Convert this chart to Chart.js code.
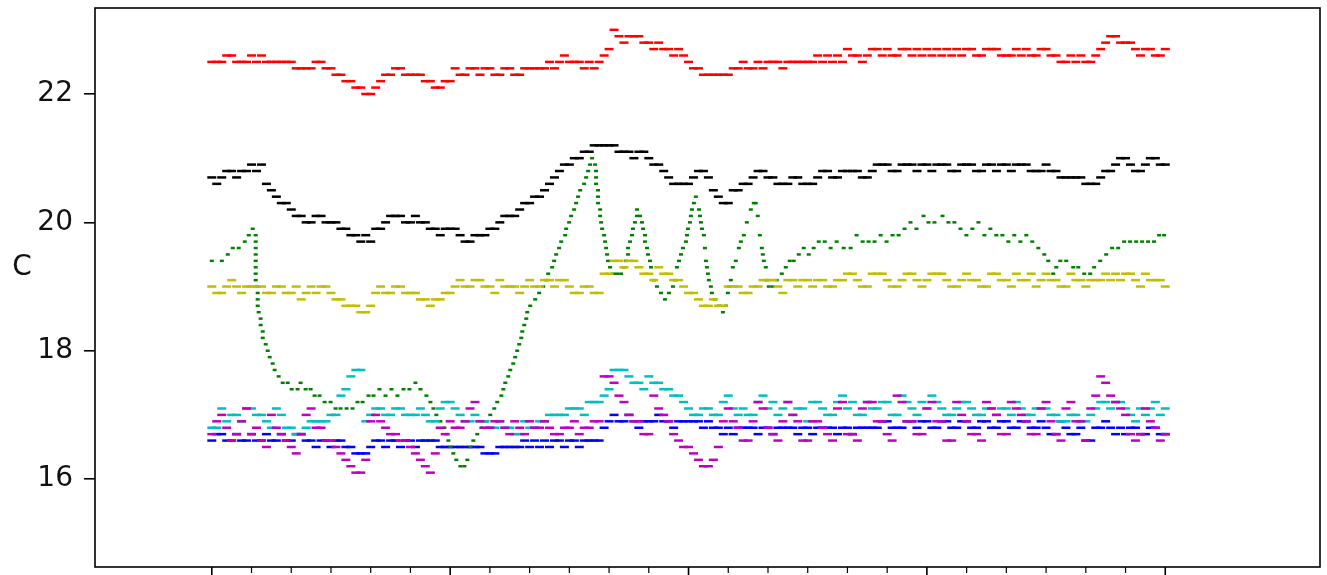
<!DOCTYPE html>
<html>
<head>
<meta charset="utf-8">
<title>Temperatures</title>
<script src="https://cdn.jsdelivr.net/npm/chart.js@4.4.1/dist/chart.umd.min.js"></script>
<style>
  html, body { margin: 0; padding: 0; background: #fff; }
  canvas { display: block; }
</style>
</head>
<body>
<canvas id="chart" width="1327" height="575"></canvas>
<script>
// hours since the start of the first day: readings on the hour and on the half hour
const hours = [
  0, 1, 2, 3, 4, 5, 6, 7, 8, 9, 10, 11, 12, 13, 14, 15, 16, 17, 18, 19,
  20, 21, 22, 23, 24, 25, 26, 27, 28, 29, 30, 31, 32, 33, 34, 35, 36, 37, 38, 39,
  40, 41, 42, 43, 44, 45, 46, 47, 48, 49, 50, 51, 52, 53, 54, 55, 56, 57, 58, 59,
  60, 61, 62, 63, 64, 65, 66, 67, 68, 69, 70, 71, 72, 73, 74, 75, 76, 77, 78, 79,
  80, 81, 82, 83, 84, 85, 86, 87, 88, 89, 90, 91, 92, 93, 94, 95, 96
];
const halfHours = [
  0.5, 1.5, 2.5, 3.5, 4.5, 5.5, 6.5, 7.5, 8.5, 9.5,
  10.5, 11.5, 12.5, 13.5, 14.5, 15.5, 16.5, 17.5, 18.5, 19.5,
  20.5, 21.5, 22.5, 23.5, 24.5, 25.5, 26.5, 27.5, 28.5, 29.5,
  30.5, 31.5, 32.5, 33.5, 34.5, 35.5, 36.5, 37.5, 38.5, 39.5,
  40.5, 41.5, 42.5, 43.5, 44.5, 45.5, 46.5, 47.5, 48.5, 49.5,
  50.5, 51.5, 52.5, 53.5, 54.5, 55.5, 56.5, 57.5, 58.5, 59.5,
  60.5, 61.5, 62.5, 63.5, 64.5, 65.5, 66.5, 67.5, 68.5, 69.5,
  70.5, 71.5, 72.5, 73.5, 74.5, 75.5, 76.5, 77.5, 78.5, 79.5,
  80.5, 81.5, 82.5, 83.5, 84.5, 85.5, 86.5, 87.5, 88.5, 89.5,
  90.5, 91.5, 92.5, 93.5, 94.5, 95.5
];

const majorTicks = [0, 24, 48, 72, 96];
const minorTicks = [4, 8, 12, 16, 20, 28, 32, 36, 40, 44, 52, 56, 60, 64, 68, 76, 80, 84, 88, 92];
const yTickValues = [16, 18, 20, 22];

const redTemps = [
  22.5, 22.5, 22.6, 22.5, 22.6, 22.6, 22.5, 22.5, 22.5, 22.4,
  22.4, 22.5, 22.4, 22.3, 22.2, 22.1, 22.0, 22.2, 22.3, 22.4,
  22.3, 22.3, 22.2, 22.1, 22.2, 22.3, 22.4, 22.3, 22.4, 22.3,
  22.4, 22.3, 22.4, 22.4, 22.5, 22.5, 22.5, 22.5, 22.5, 22.5,
  22.7, 22.9, 22.9, 22.9, 22.8, 22.8, 22.7, 22.7, 22.5, 22.4,
  22.3, 22.3, 22.3, 22.4, 22.4, 22.5, 22.5, 22.5, 22.5, 22.5,
  22.5, 22.6, 22.6, 22.6, 22.7, 22.6, 22.6, 22.7, 22.7, 22.6,
  22.7, 22.7, 22.7, 22.7, 22.7, 22.7, 22.7, 22.6, 22.7, 22.7,
  22.6, 22.7, 22.7, 22.6, 22.7, 22.6, 22.5, 22.5, 22.5, 22.6,
  22.8, 22.9, 22.8, 22.7, 22.7, 22.6, 22.7
];
const redTempsHalf = [
  22.5, 22.6, 22.5, 22.5, 22.5, 22.5, 22.5, 22.5, 22.4, 22.4,
  22.5, 22.4, 22.3, 22.2, 22.1, 22.0, 22.1, 22.3, 22.4, 22.3,
  22.3, 22.2, 22.1, 22.2, 22.4, 22.3, 22.4, 22.4, 22.3, 22.4,
  22.3, 22.4, 22.4, 22.4, 22.4, 22.6, 22.5, 22.4, 22.4, 22.6,
  23.0, 22.8, 22.9, 22.8, 22.7, 22.7, 22.6, 22.6, 22.4, 22.3,
  22.3, 22.3, 22.4, 22.5, 22.4, 22.4, 22.5, 22.4, 22.5, 22.5,
  22.5, 22.5, 22.5, 22.5, 22.6, 22.5, 22.7, 22.6, 22.6, 22.7,
  22.6, 22.6, 22.6, 22.6, 22.6, 22.6, 22.7, 22.6, 22.7, 22.6,
  22.6, 22.6, 22.6, 22.7, 22.6, 22.5, 22.6, 22.6, 22.5, 22.7,
  22.9, 22.8, 22.8, 22.6, 22.7, 22.6
];

const blackTemps = [
  20.7, 20.7, 20.8, 20.8, 20.9, 20.9, 20.5, 20.3, 20.2, 20.1,
  20.0, 20.1, 20.0, 19.9, 19.8, 19.7, 19.7, 19.9, 20.1, 20.1,
  20.0, 20.0, 19.9, 19.8, 19.9, 19.8, 19.7, 19.8, 19.9, 20.0,
  20.1, 20.2, 20.3, 20.4, 20.6, 20.8, 20.9, 21.0, 21.1, 21.2,
  21.2, 21.1, 21.1, 21.1, 21.0, 20.9, 20.7, 20.6, 20.6, 20.8,
  20.7, 20.4, 20.3, 20.5, 20.6, 20.8, 20.7, 20.6, 20.6, 20.7,
  20.6, 20.7, 20.8, 20.7, 20.8, 20.8, 20.7, 20.9, 20.9, 20.8,
  20.9, 20.8, 20.9, 20.9, 20.9, 20.8, 20.9, 20.8, 20.9, 20.8,
  20.9, 20.9, 20.9, 20.8, 20.9, 20.8, 20.7, 20.7, 20.6, 20.6,
  20.8, 20.9, 21.0, 20.8, 20.9, 21.0, 20.9
];
const blackTempsHalf = [
  20.6, 20.8, 20.7, 20.8, 20.8, 20.6, 20.4, 20.3, 20.1, 20.0,
  20.1, 20.0, 20.0, 19.9, 19.8, 19.8, 19.9, 20.0, 20.1, 20.0,
  20.1, 20.0, 19.9, 19.9, 19.9, 19.7, 19.8, 19.8, 19.9, 20.1,
  20.1, 20.3, 20.4, 20.5, 20.7, 20.9, 21.0, 21.1, 21.2, 21.2,
  21.2, 21.1, 21.0, 21.1, 20.9, 20.8, 20.6, 20.6, 20.7, 20.8,
  20.5, 20.3, 20.5, 20.6, 20.7, 20.8, 20.7, 20.6, 20.7, 20.6,
  20.6, 20.8, 20.7, 20.8, 20.8, 20.7, 20.8, 20.9, 20.8, 20.9,
  20.9, 20.9, 20.8, 20.9, 20.8, 20.9, 20.9, 20.8, 20.9, 20.9,
  20.8, 20.9, 20.8, 20.8, 20.8, 20.7, 20.7, 20.7, 20.6, 20.7,
  20.8, 21.0, 20.9, 20.8, 21.0, 20.9
];

const yellowTemps = [
  19.0, 18.9, 19.1, 18.9, 19.0, 19.0, 18.9, 19.0, 18.9, 18.8,
  19.0, 19.0, 18.9, 18.8, 18.7, 18.6, 18.7, 19.0, 18.9, 19.0,
  18.9, 18.8, 18.7, 18.8, 18.9, 19.1, 19.0, 19.1, 19.0, 19.1,
  19.0, 18.9, 19.1, 19.0, 19.1, 19.1, 19.0, 18.9, 19.0, 18.9,
  19.2, 19.4, 19.4, 19.3, 19.2, 19.3, 19.2, 19.1, 18.9, 18.8,
  18.7, 18.7, 19.0, 19.0, 18.9, 19.0, 19.1, 19.0, 19.1, 19.0,
  19.1, 19.1, 19.0, 19.1, 19.2, 19.1, 19.0, 19.2, 19.1, 19.0,
  19.2, 19.1, 19.1, 19.2, 19.1, 19.0, 19.2, 19.1, 19.0, 19.2,
  19.1, 19.2, 19.1, 19.0, 19.2, 19.1, 19.0, 19.1, 19.0, 19.1,
  19.2, 19.2, 19.2, 19.1, 19.2, 19.1, 19.0
];
const yellowTempsHalf = [
  18.9, 19.0, 19.0, 19.0, 19.0, 18.9, 19.0, 18.9, 19.0, 18.9,
  18.9, 19.0, 18.8, 18.7, 18.7, 18.6, 18.9, 18.9, 19.0, 18.9,
  18.9, 18.8, 18.8, 18.9, 19.0, 19.0, 19.1, 19.0, 18.9, 19.0,
  19.0, 19.0, 19.0, 19.1, 19.0, 19.1, 18.9, 19.0, 18.9, 19.2,
  19.4, 19.3, 19.4, 19.2, 19.1, 19.2, 19.1, 19.0, 18.9, 18.7,
  18.8, 18.7, 19.0, 18.9, 19.0, 19.1, 19.1, 18.9, 19.1, 19.1,
  19.0, 19.1, 19.0, 19.1, 19.2, 19.0, 19.2, 19.2, 19.0, 19.1,
  19.2, 19.0, 19.2, 19.2, 19.0, 19.1, 19.1, 19.0, 19.2, 19.1,
  19.0, 19.1, 19.2, 19.1, 19.1, 19.0, 19.2, 19.1, 19.1, 19.1,
  19.1, 19.1, 19.2, 19.0, 19.1, 19.1
];

const cyanTemps = [
  16.8, 17.1, 17.0, 16.9, 17.1, 17.0, 16.8, 17.0, 16.8, 16.7,
  16.9, 16.9, 17.0, 17.3, 17.6, 17.7, 17.0, 17.1, 17.0, 17.1,
  17.0, 17.1, 16.9, 17.1, 17.2, 17.0, 16.9, 16.9, 16.8, 16.9,
  16.8, 16.7, 16.8, 16.9, 17.0, 17.0, 17.1, 17.1, 17.2, 17.2,
  17.4, 17.7, 17.6, 17.5, 17.6, 17.5, 17.4, 17.3, 17.1, 17.0,
  17.1, 17.0, 17.3, 17.0, 17.0, 17.2, 17.1, 17.0, 17.2, 17.1,
  16.9, 17.2, 17.0, 17.2, 17.1, 17.0, 17.2, 17.1, 17.2, 17.0,
  17.2, 17.0, 17.1, 17.2, 17.0, 17.1, 17.2, 17.0, 17.1, 17.0,
  17.1, 17.2, 17.0, 17.1, 17.1, 17.0, 16.9, 17.0, 16.9, 17.1,
  17.2, 17.2, 17.1, 16.9, 17.0, 17.2, 17.1
];
const cyanTempsHalf = [
  16.8, 16.9, 17.0, 17.1, 17.0, 16.9, 17.1, 16.8, 16.7, 16.8,
  16.9, 16.9, 17.0, 17.4, 17.7, 16.9, 17.1, 17.0, 17.1, 17.0,
  17.0, 17.0, 16.9, 17.2, 17.1, 16.9, 17.0, 16.9, 16.8, 16.8,
  16.7, 16.9, 16.8, 16.9, 17.0, 17.0, 17.1, 17.0, 17.2, 17.3,
  17.7, 17.7, 17.5, 17.4, 17.5, 17.4, 17.3, 17.2, 17.0, 17.1,
  17.0, 17.2, 17.1, 17.1, 17.0, 17.3, 17.2, 17.1, 17.0, 17.1,
  17.2, 17.1, 17.0, 17.3, 17.2, 17.0, 17.1, 17.2, 17.0, 17.3,
  17.1, 17.2, 17.3, 17.1, 17.0, 17.2, 17.1, 17.0, 17.1, 17.1,
  17.0, 17.1, 17.0, 17.1, 17.0, 16.9, 17.0, 16.9, 17.0, 17.2,
  17.1, 17.2, 17.0, 17.1, 17.1, 17.0
];

const magentaTemps = [
  16.7, 17.0, 16.6, 16.9, 16.7, 16.6, 17.0, 16.7, 16.5, 16.7,
  17.1, 16.8, 16.6, 16.4, 16.2, 16.1, 16.9, 16.9, 16.7, 16.6,
  16.5, 16.3, 16.1, 16.8, 16.9, 16.8, 17.1, 16.9, 16.8, 16.9,
  16.7, 16.8, 16.9, 16.8, 16.8, 16.7, 16.8, 16.7, 16.8, 16.9,
  17.6, 17.3, 17.0, 16.9, 16.7, 17.1, 16.9, 16.6, 16.5, 16.3,
  16.2, 16.5, 17.1, 16.8, 16.6, 17.2, 16.8, 16.6, 17.2, 16.9,
  16.6, 16.9, 16.7, 17.1, 16.7, 16.6, 17.2, 16.9, 16.7, 17.3,
  16.9, 16.7, 17.1, 16.9, 16.6, 17.2, 16.9, 16.7, 17.2, 17.0,
  16.7, 17.1, 16.9, 16.7, 17.2, 16.7, 17.1, 16.9, 16.6, 17.3,
  17.5, 17.2, 17.0, 16.6, 17.1, 16.8, 16.7
];
const magentaTempsHalf = [
  16.9, 16.8, 16.7, 17.1, 16.8, 16.5, 16.8, 16.6, 16.4, 17.0,
  16.8, 16.6, 16.5, 16.3, 16.1, 16.3, 17.0, 16.8, 16.7, 16.6,
  16.4, 16.2, 16.4, 16.7, 16.8, 16.9, 17.2, 16.8, 16.9, 16.8,
  16.9, 16.7, 16.8, 16.9, 16.7, 16.8, 16.9, 16.8, 16.9, 17.6,
  17.5, 17.2, 16.9, 16.7, 17.3, 17.0, 16.7, 16.5, 16.4, 16.2,
  16.3, 16.9, 16.9, 16.6, 16.9, 17.1, 16.7, 16.9, 17.0, 16.6,
  16.9, 16.8, 16.6, 17.2, 16.7, 17.1, 17.2, 16.9, 16.6, 17.2,
  16.9, 16.7, 17.2, 16.9, 16.6, 17.0, 16.7, 16.6, 17.1, 16.7,
  17.2, 17.0, 16.7, 17.1, 16.9, 16.6, 17.2, 16.9, 17.1, 17.6,
  17.3, 17.1, 16.7, 16.7, 16.9, 16.6
];

const blueTemps = [
  16.6, 16.7, 16.6, 16.6, 16.7, 16.6, 16.6, 16.7, 16.6, 16.7,
  16.6, 16.6, 16.5, 16.6, 16.5, 16.4, 16.5, 16.6, 16.6, 16.5,
  16.6, 16.6, 16.6, 16.5, 16.5, 16.5, 16.5, 16.5, 16.4, 16.5,
  16.5, 16.5, 16.5, 16.5, 16.5, 16.6, 16.6, 16.5, 16.6, 16.6,
  16.9, 16.9, 17.0, 16.8, 16.9, 17.0, 16.9, 16.9, 16.9, 16.9,
  16.9, 16.8, 16.8, 16.8, 16.8, 16.7, 16.8, 16.8, 16.8, 16.7,
  16.8, 16.8, 16.8, 16.7, 16.8, 16.8, 16.8, 16.8, 16.9, 16.8,
  16.9, 16.8, 16.9, 16.8, 16.9, 16.8, 16.9, 16.8, 16.9, 16.8,
  16.9, 16.8, 16.9, 16.8, 16.8, 16.7, 16.8, 16.7, 16.6, 16.8,
  16.9, 16.7, 16.7, 16.8, 16.7, 16.8, 16.7
];
const blueTempsHalf = [
  16.7, 16.6, 16.7, 16.6, 16.6, 16.7, 16.6, 16.6, 16.7, 16.6,
  16.5, 16.6, 16.6, 16.5, 16.4, 16.4, 16.6, 16.5, 16.6, 16.6,
  16.5, 16.6, 16.6, 16.5, 16.5, 16.5, 16.5, 16.4, 16.4, 16.5,
  16.5, 16.6, 16.6, 16.6, 16.6, 16.5, 16.6, 16.6, 16.6, 16.8,
  17.0, 16.9, 16.9, 16.9, 16.9, 16.9, 16.8, 16.9, 16.9, 16.8,
  16.8, 16.7, 16.7, 16.8, 16.8, 16.8, 16.7, 16.8, 16.8, 16.8,
  16.7, 16.8, 16.8, 16.8, 16.7, 16.8, 16.8, 16.9, 16.8, 16.8,
  16.9, 16.9, 16.8, 16.9, 16.8, 16.9, 16.8, 16.9, 16.8, 16.9,
  16.8, 16.9, 16.8, 16.9, 16.7, 16.9, 16.7, 16.8, 16.6, 16.8,
  16.8, 16.8, 16.8, 16.7, 16.8, 16.7
];

// the green sensor swings fast, so it keeps the readings that are visible one by one
const greenHours = [
  0.00, 1.01, 1.61, 2.11, 2.71, 3.32, 3.72, 4.12,
  4.42, 4.42, 4.42, 4.42, 4.42, 4.42, 4.42, 4.42,
  4.62, 4.62, 4.62, 4.62, 4.72, 4.92, 4.92, 5.13, 5.13, 5.43, 5.63, 5.83, 6.13, 6.33, 6.73, 7.14,
  7.64, 8.04, 8.64, 8.94, 9.45, 9.95, 10.35, 10.85, 11.36, 11.96, 12.46, 12.96, 13.57,
  14.17, 14.67, 15.18, 15.78, 16.28, 16.88, 17.49, 18.09, 18.69, 19.30, 19.90, 20.50, 21.01,
  21.61, 22.01, 22.31, 22.61, 23.02, 23.42, 23.62, 23.82, 24.02, 24.32, 24.62, 25.03, 25.43,
  25.73, 26.03, 26.33, 26.73, 27.14, 27.64, 28.04, 28.44, 28.74, 29.15, 29.35, 29.55, 29.85,
  30.05, 30.35, 30.55, 30.75, 30.95, 31.16, 31.26, 31.46, 31.66, 31.76, 32.06, 32.56, 32.96,
  33.37, 33.67, 33.87, 34.27, 34.47, 34.67, 34.97, 35.18, 35.58, 35.68, 35.98, 36.18, 36.48,
  36.68, 36.88, 37.09, 37.49, 37.69, 37.89, 38.09, 38.29,
  38.59, 38.69, 38.69, 38.69, 38.89, 38.89, 38.89, 39.10, 39.10, 39.20, 39.30, 39.50, 39.60,
  39.70, 39.80, 39.90, 40.10, 40.40, 40.80, 41.21,
  41.51, 41.71, 41.91, 41.91, 42.11, 42.31, 42.41, 42.61, 42.81, 42.81, 43.12, 43.32, 43.42,
  43.62, 43.62, 43.82, 43.92, 44.12, 44.22, 44.52, 44.82, 45.23, 45.63,
  46.03, 46.43, 46.63, 46.83, 47.04, 47.24, 47.44, 47.74, 47.84, 47.94, 48.14, 48.24, 48.34,
  48.54, 48.74, 49.05, 49.15, 49.25, 49.35, 49.55, 49.65, 49.75, 49.85, 49.95, 50.05, 50.25,
  50.35, 50.65, 51.06, 51.46,
  51.76, 51.96, 52.06, 52.26, 52.46, 52.76, 53.07, 53.27, 53.57, 53.87, 54.27, 54.57, 54.77,
  54.97, 55.18, 55.38, 55.48, 55.58, 55.78, 55.88, 56.08,
  56.48, 56.88, 57.39, 57.79, 58.19, 58.59, 59.10, 59.60, 60.10, 60.60,
  61.11, 61.71, 62.31, 62.91, 63.62, 64.32, 64.92, 65.53, 66.13, 66.73,
  67.34, 67.94, 68.54, 69.15, 69.75, 70.35, 70.95, 71.66, 72.16, 72.76,
  73.57, 74.17, 74.77, 75.38, 75.98, 76.58, 77.19, 77.79, 78.39, 78.99,
  79.60, 80.20, 80.80, 81.41, 82.01, 82.61, 83.22, 83.82, 84.22, 84.72,
  85.03, 85.43, 86.03, 86.73, 87.24, 87.84, 88.44, 88.84, 89.45, 90.05,
  90.65, 91.26, 91.86, 92.46, 93.07, 93.67, 94.27, 94.87, 95.38, 95.88
];

const greenTemps = [
  19.4, 19.4, 19.5, 19.6, 19.6, 19.7, 19.8, 19.9,
  19.8, 19.7, 19.6, 19.5, 19.4, 19.3, 19.2, 19.1,
  19.0, 18.9, 18.8, 18.7, 18.6, 18.5, 18.4, 18.3, 18.2, 18.1, 18.0, 17.9, 17.8, 17.7, 17.6, 17.5,
  17.5, 17.4, 17.4, 17.5, 17.4, 17.4, 17.3, 17.3, 17.2, 17.2, 17.1, 17.1, 17.1,
  17.1, 17.2, 17.2, 17.3, 17.3, 17.4, 17.3, 17.4, 17.3, 17.4, 17.4, 17.5, 17.4,
  17.3, 17.2, 17.1, 17.0, 16.9, 16.8, 16.7, 16.6, 16.5, 16.4, 16.3, 16.2, 16.2,
  16.3, 16.5, 16.6, 16.7, 16.8, 16.9, 17.0, 17.1, 17.2, 17.3, 17.4, 17.5, 17.6,
  17.7, 17.8, 17.9, 18.0, 18.1, 18.2, 18.3, 18.4, 18.5, 18.6, 18.7, 18.8, 18.9,
  19.0, 19.1, 19.2, 19.3, 19.4, 19.5, 19.6, 19.7, 19.8, 19.9, 20.0, 20.1, 20.2,
  20.3, 20.4, 20.5, 20.6, 20.7, 20.8, 20.9, 21.0,
  20.9, 20.8, 20.7, 20.6, 20.5, 20.4, 20.3, 20.2, 20.1, 20.0, 19.9, 19.8, 19.7,
  19.6, 19.5, 19.4, 19.3, 19.2, 19.2, 19.2,
  19.3, 19.4, 19.5, 19.6, 19.7, 19.8, 19.9, 20.0, 20.1, 20.2, 20.1, 20.0, 19.9,
  19.8, 19.7, 19.6, 19.5, 19.4, 19.3, 19.1, 19.0, 18.9, 18.8,
  18.9, 19.0, 19.1, 19.3, 19.4, 19.5, 19.6, 19.7, 19.8, 19.9, 20.0, 20.1, 20.2,
  20.3, 20.4, 20.2, 20.1, 20.0, 19.9, 19.8, 19.6, 19.4, 19.3, 19.2, 19.1, 19.0,
  18.9, 18.8, 18.7, 18.6,
  18.7, 18.9, 19.0, 19.1, 19.3, 19.4, 19.6, 19.7, 19.8, 20.0, 20.2, 20.3, 20.3,
  20.1, 19.8, 19.6, 19.5, 19.4, 19.3, 19.1, 19.0,
  19.0, 19.1, 19.2, 19.3, 19.4, 19.4, 19.5, 19.6, 19.5, 19.6,
  19.7, 19.7, 19.6, 19.7, 19.6, 19.6, 19.8, 19.7, 19.7, 19.7,
  19.8, 19.7, 19.8, 19.8, 19.9, 20.0, 19.9, 20.1, 20.0, 20.0,
  20.1, 20.0, 20.0, 19.9, 19.8, 19.9, 20.0, 19.8, 19.9, 19.8,
  19.8, 19.7, 19.8, 19.7, 19.8, 19.7, 19.6, 19.5, 19.4, 19.2,
  19.3, 19.4, 19.4, 19.3, 19.3, 19.2, 19.2, 19.3, 19.4, 19.5,
  19.6, 19.6, 19.7, 19.7, 19.7, 19.7, 19.7, 19.7, 19.8, 19.8
];

function toPoints(xs, ys) {
  return ys.map((y, i) => ({ x: xs[i], y: y }));
}

// drawing order follows the old matplotlib cycle: blue first (bottom), black last (top)
function makeSeries(label, points, color, order, radius) {
  return {
    label: label,
    data: points,
    showLine: false,
    pointStyle: 'line',
    pointRadius: radius,
    pointHoverRadius: radius,
    pointBorderWidth: 2.5,
    pointHoverBorderWidth: 2.5,
    borderColor: color,
    backgroundColor: color,
    order: order
  };
}

function hourlyPoints(temps, tempsHalf) {
  return toPoints(hours, temps).concat(toPoints(halfHours, tempsHalf));
}

const frame = {
  id: 'frame',
  afterDraw(chart) {
    const { ctx, chartArea, scales } = chart;
    ctx.save();
    ctx.strokeStyle = '#000';
    ctx.lineWidth = 1.6;
    ctx.strokeRect(chartArea.left, chartArea.top, chartArea.right - chartArea.left, chartArea.bottom - chartArea.top);

    majorTicks.forEach(h => {
      const px = scales.x.getPixelForValue(h);
      ctx.beginPath();
      ctx.moveTo(px, chartArea.bottom);
      ctx.lineTo(px, chartArea.bottom + 11);
      ctx.stroke();
    });
    ctx.lineWidth = 1.2;
    minorTicks.forEach(h => {
      const px = scales.x.getPixelForValue(h);
      ctx.beginPath();
      ctx.moveTo(px, chartArea.bottom);
      ctx.lineTo(px, chartArea.bottom + 6);
      ctx.stroke();
    });

    ctx.font = '28px "DejaVu Sans"';
    ctx.fillStyle = '#111';
    ctx.textAlign = 'center';
    ctx.textBaseline = 'middle';
    ctx.fillText('C', 22, 268);
    ctx.restore();
  }
};

new Chart(document.getElementById('chart').getContext('2d'), {
  type: 'scatter',
  data: {
    datasets: [
      makeSeries('b', hourlyPoints(blueTemps, blueTempsHalf), '#0000ff', 6, 4.5),
      makeSeries('g', toPoints(greenHours, greenTemps), '#008000', 5, 2),
      makeSeries('r', hourlyPoints(redTemps, redTempsHalf), '#ff0000', 4, 4.5),
      makeSeries('c', hourlyPoints(cyanTemps, cyanTempsHalf), '#00bfbf', 3, 4.5),
      makeSeries('m', hourlyPoints(magentaTemps, magentaTempsHalf), '#bf00bf', 2, 4.5),
      makeSeries('y', hourlyPoints(yellowTemps, yellowTempsHalf), '#bfbf00', 1, 4.5),
      makeSeries('k', hourlyPoints(blackTemps, blackTempsHalf), '#000000', 0, 4.5)
    ]
  },
  options: {
    responsive: false,
    animation: false,
    devicePixelRatio: 1,
    layout: { padding: { top: 8, right: 5, bottom: 8, left: 0 } },
    plugins: {
      legend: { display: false },
      tooltip: { enabled: false }
    },
    scales: {
      x: {
        type: 'linear',
        display: false,
        min: -11.76,
        max: 111.58
      },
      y: {
        min: 14.63,
        max: 23.34,
        afterFit: scale => {
          scale.width = 95;
          scale.paddingTop = 0;
          scale.paddingBottom = 0;
        },
        afterBuildTicks: scale => { scale.ticks = yTickValues.map(v => ({ value: v })); },
        border: { display: false },
        grid: {
          drawOnChartArea: false,
          tickLength: 11,
          color: '#000',
          tickColor: '#000',
          lineWidth: 1.6
        },
        ticks: {
          padding: 11,
          color: '#111',
          font: { family: 'DejaVu Sans', size: 28 }
        }
      }
    }
  },
  plugins: [frame]
});
</script>
</body>
</html>
